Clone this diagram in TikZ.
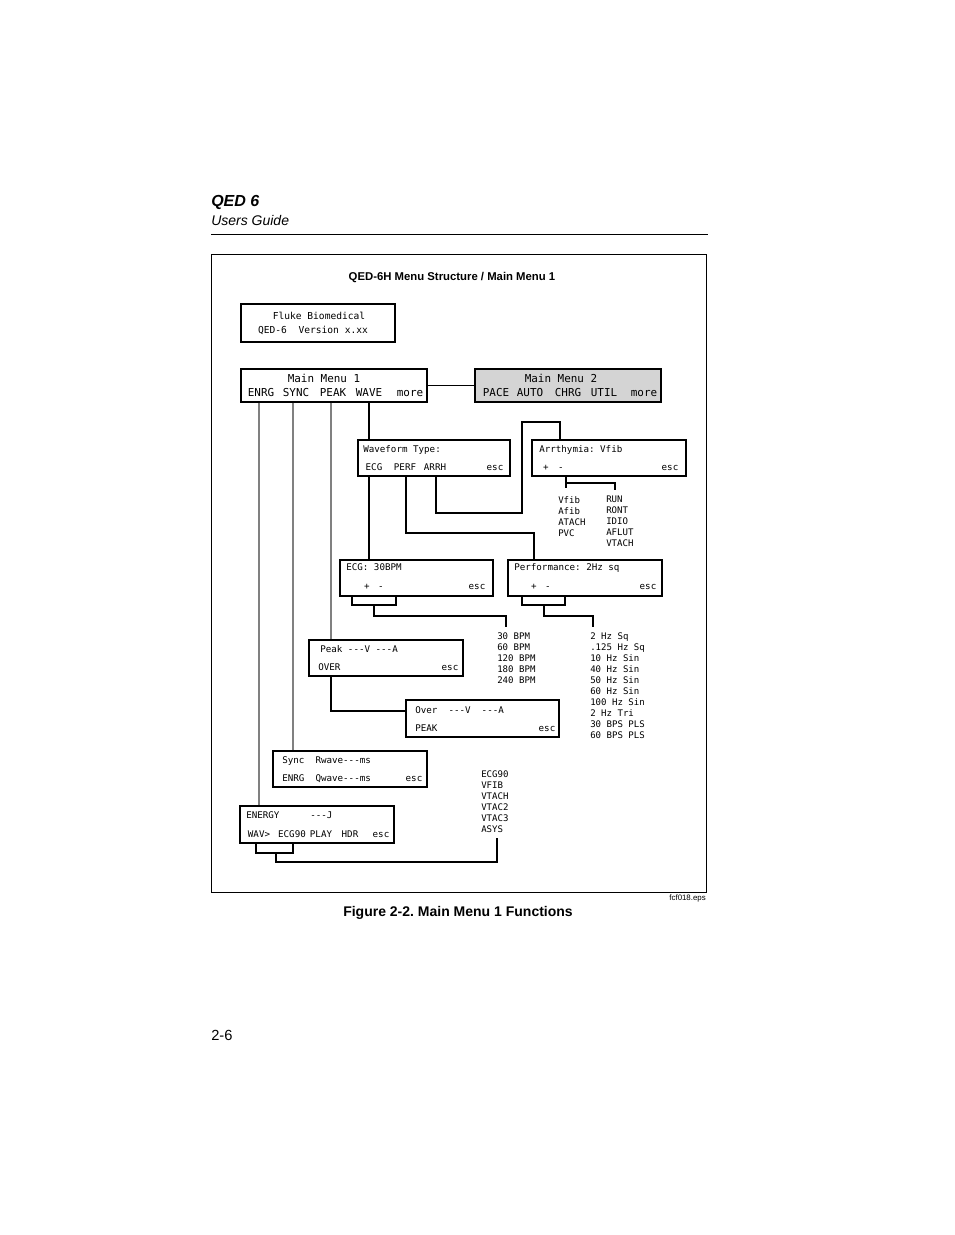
\documentclass[tikz,border=0pt]{standalone}
\usepackage{fontspec}
\usetikzlibrary{fit}
\newfontfamily\hel{Liberation Sans}
\newfontfamily\lcd[Ligatures=TeXOff]{DejaVu Sans Mono}
\begin{document}
\frenchspacing
\begin{tikzpicture}[x=0.75pt,y=-0.75pt,
  box/.style={draw,line width=0.8pt,inner sep=0pt},
  mbox/.style={box,fill=black!17},
  ln/.style={line width=0.8pt},
  gln/.style={line width=0.8pt,draw=black!50},
  tL/.style={font=\lcd\fontsize{8.2}{9}\selectfont,inner sep=0pt,anchor=base},
  tF/.style={font=\lcd\fontsize{7.2}{8}\selectfont,inner sep=0pt,anchor=base},
  tS/.style={font=\lcd\fontsize{6.9}{8}\selectfont,inner sep=0pt,anchor=base west},
  tSc/.style={font=\lcd\fontsize{6.9}{8}\selectfont,inner sep=0pt,anchor=base},
  tI/.style={font=\lcd\fontsize{6.8}{8.25}\selectfont,inner sep=0pt,anchor=north west,align=left}]
\useasboundingbox (0,0) rectangle (954,1235);
% header
\node[font=\hel\bfseries\itshape\fontsize{12}{14}\selectfont,inner sep=0pt,anchor=base west] (hq) at (211,206) {QED 6};
\node[font=\hel\itshape\fontsize{10.5}{12}\selectfont,inner sep=0pt,anchor=base west] (hu) at (211,225) {Users Guide};
\coordinate (r1) at (211,234.5); \coordinate (r2) at (708,234.5);
\draw[line width=0.9pt] (r1) -- (r2);
\node[draw,line width=0.7pt,inner sep=0pt,fit={(211,254)(706,892)}] (frame) {};
\node[font=\hel\bfseries\fontsize{8.5}{10}\selectfont,inner sep=0pt,anchor=base] (title) at (452,280) {QED-6H Menu Structure / Main Menu 1};
\node[font=\hel\fontsize{5.9}{7}\selectfont,inner sep=0pt,anchor=base east] (eps) at (706,900.5) {fcf018.eps};
\node[font=\hel\bfseries\fontsize{10.5}{12}\selectfont,inner sep=0pt,anchor=base] (cap) at (458,916) {Figure 2-2. Main Menu 1 Functions};
\node[font=\hel\fontsize{11}{13}\selectfont,inner sep=0pt,anchor=base west] (pg) at (211,1040) {2-6};
% boxes
\node[box,fit={(241,304)(395,342)}] (fluke) {};
\node[tF] (f1) at (319,319) {Fluke Biomedical};
\node[tF] (f2) at (313,333) {QED-6\ \ Version x.xx};
\node[box,fit={(241,369)(427,402)}] (mm1) {};
\node[tL] (m1a) at (324,382) {Main Menu 1};
\node[tL] (m1b) at (261,396) {ENRG};
\node[tL] (m1c) at (296,396) {SYNC};
\node[tL] (m1d) at (333,396) {PEAK};
\node[tL] (m1e) at (369,396) {WAVE};
\node[tL] (m1f) at (410,396) {more};
\node[mbox,fit={(475,369)(661,402)}] (mm2) {};
\node[tL] (m2a) at (561,382) {Main Menu 2};
\node[tL] (m2b) at (496,396) {PACE};
\node[tL] (m2c) at (530,396) {AUTO};
\node[tL] (m2d) at (568,396) {CHRG};
\node[tL] (m2e) at (604,396) {UTIL};
\node[tL] (m2f) at (644,396) {more};
% waveform
\node[box,fit={(358,440)(510,476)}] (wave) {};
\node[tS] (w1) at (363,452.5) {Waveform Type:};
\node[tSc] (w2) at (374,470.5) {ECG};
\node[tSc] (w3) at (405,470.5) {PERF};
\node[tSc] (w4) at (435,470.5) {ARRH};
\node[tSc] (w5) at (495,470.5) {esc};
% arrhythmia
\node[box,fit={(532,440)(686,476)}] (arr) {};
\node[tS] (a1t) at (539,452.5) {Arrthymia: Vfib};
\node[tSc] (a2t) at (546,470.5) {+};
\node[tSc] (a3t) at (561,470.5) {-};
\node[tSc] (a4t) at (670,470.5) {esc};
\node[tI] (al1) at (558,496) {Vfib\\Afib\\ATACH\\PVC};
\node[tI] (al2) at (606,496) {RUN\\RONT\\IDIO\\AFLUT\\VTACH};
% ecg
\node[box,fit={(340,560)(493,596)}] (ecg) {};
\node[tS] (e1) at (346,570.5) {ECG: 30BPM};
\node[tSc] (e2) at (367,589.5) {+};
\node[tSc] (e3) at (381,589.5) {-};
\node[tSc] (e4) at (477,589.5) {esc};
\node[tI] (el) at (497,632) {30 BPM\\60 BPM\\120 BPM\\180 BPM\\240 BPM};
% performance
\node[box,fit={(508,560)(662,596)}] (perf) {};
\node[tS] (p1) at (514,570.5) {Performance: 2Hz sq};
\node[tSc] (p2) at (534,589.5) {+};
\node[tSc] (p3) at (548,589.5) {-};
\node[tSc] (p4) at (648,589.5) {esc};
\node[tI] (pl) at (590,632) {2 Hz Sq\\.125 Hz Sq\\10 Hz Sin\\40 Hz Sin\\50 Hz Sin\\60 Hz Sin\\100 Hz Sin\\2 Hz Tri\\30 BPS PLS\\60 BPS PLS};
% peak
\node[box,fit={(309,640)(463,676)}] (peak) {};
\node[tS] (k1) at (320,652.5) {Peak ---V ---A};
\node[tS] (k2) at (318,670.5) {OVER};
\node[tSc] (k3) at (450,670.5) {esc};
% over
\node[box,fit={(406,700)(559,737)}] (over) {};
\node[tS] (o1) at (415,713.5) {Over\ \ ---V\ \ ---A};
\node[tS] (o2) at (415,731.5) {PEAK};
\node[tSc] (o3) at (547,731.5) {esc};
% sync
\node[box,fit={(273,751)(427,787)}] (sync) {};
\node[tS] (s1) at (282,763.5) {Sync\ \ Rwave---ms};
\node[tS] (s2) at (282,781.5) {ENRG\ \ Qwave---ms};
\node[tSc] (s3) at (414,781.5) {esc};
% energy
\node[box,fit={(240,806)(394,843)}] (energy) {};
\node[tS] (n1) at (246,818.5) {ENERGY};
\node[tS] (n2) at (310,818.5) {---J};
\node[tSc] (n3) at (259,837.5) {WAV>};
\node[tSc] (n4) at (292,837.5) {ECG90};
\node[tSc] (n5) at (321,837.5) {PLAY};
\node[tSc] (n6) at (350,837.5) {HDR};
\node[tSc] (n7) at (381,837.5) {esc};
\node[tI] (nl) at (481,770) {ECG90\\VFIB\\VTACH\\VTAC2\\VTAC3\\ASYS};
% connectors
\coordinate (xE) at (259,0); \coordinate (xS) at (293,0);
\coordinate (xP) at (331,0); \coordinate (xW) at (369,0);
\draw[gln] (mm1.south -| xE) -- (energy.north -| xE);
\draw[gln] (mm1.south -| xS) -- (sync.north -| xS);
\draw[gln] (mm1.south -| xP) -- (peak.north -| xP);
\coordinate (po) at (331,711);
\draw[ln] (peak.south -| po) -- (po) -- (over.west |- po);
\draw[ln] (mm1.south -| xW) -- (wave.north -| xW);
\draw[ln] (mm1.east) -- (mm2.west);
\draw[ln] (wave.south -| xW) -- (ecg.north -| xW);
\coordinate (pf1) at (406,533); \coordinate (pf2) at (534,0);
\draw[ln] (wave.south -| pf1) -- (pf1) -| (perf.north -| pf2);
\coordinate (ar1) at (436,513); \coordinate (ar2) at (522,422); \coordinate (ar3) at (560,0);
\draw[ln] (wave.south -| ar1) -- (ar1) -| (ar2) -| (arr.north -| ar3);
\coordinate (b1) at (566,488); \coordinate (b2) at (615,490); \coordinate (by) at (0,483);
\draw[ln] (arr.south -| b1) -- (b1);
\draw[ln] (b1 |- by) -| (b2);
% ecg bracket
\coordinate (eu1) at (352,605); \coordinate (eu2) at (396,605);
\coordinate (em1) at (374,616); \coordinate (em2) at (506,627);
\draw[ln] (ecg.south -| eu1) -- (eu1) -- (eu2) -- (ecg.south -| eu2);
\draw[ln] (em1 |- eu1) -- (em1) -| (em2);
% perf bracket
\coordinate (pu1) at (522,605); \coordinate (pu2) at (565,605);
\coordinate (pm1) at (544,616); \coordinate (pm2) at (593,627);
\draw[ln] (perf.south -| pu1) -- (pu1) -- (pu2) -- (perf.south -| pu2);
\draw[ln] (pm1 |- pu1) -- (pm1) -| (pm2);
% energy bracket
\coordinate (nu1) at (256,853); \coordinate (nu2) at (293,853);
\coordinate (nm1) at (276,862); \coordinate (nm2) at (497,838);
\draw[ln] (energy.south -| nu1) -- (nu1) -- (nu2) -- (energy.south -| nu2);
\draw[ln] (nm1 |- nu1) -- (nm1) -| (nm2);
\end{tikzpicture}
\end{document}
